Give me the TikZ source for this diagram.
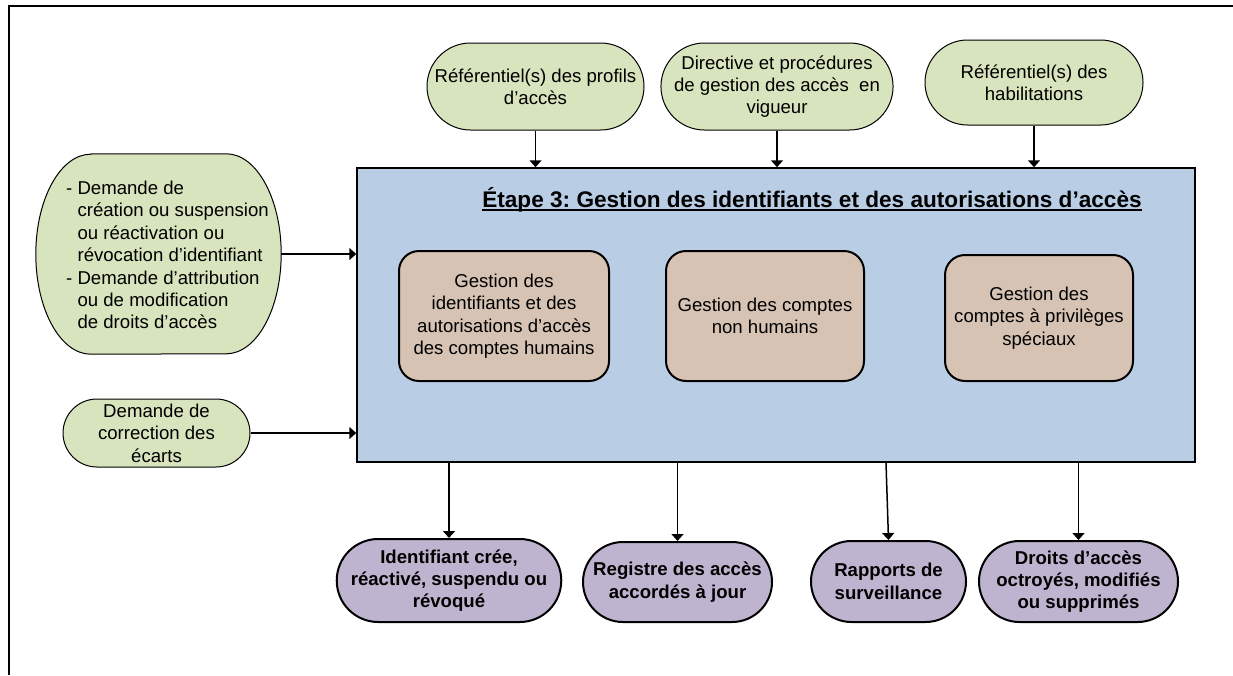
\documentclass[tikz,border=0pt]{standalone}
\usepackage{fontspec}
\setmainfont{Liberation Sans}
\usetikzlibrary{arrows.meta,shapes.misc}
\definecolor{ingreen}{HTML}{D7E4BD}
\definecolor{mainblue}{HTML}{B9CDE5}
\definecolor{subbrown}{HTML}{D6C3B4}
\definecolor{outpurple}{HTML}{BFB4CF}
\frenchspacing
\tikzset{
  txt/.style={font=\fontsize{18.6}{22.4}\selectfont, align=center, inner sep=0pt},
  inbox/.style={txt, rounded rectangle, draw=black, line width=1pt, fill=ingreen},
  subbox/.style={txt, rectangle, rounded corners=20pt, draw=black, line width=2pt, fill=subbrown},
  outbox/.style={txt, font=\fontsize{18.6}{22.4}\selectfont\bfseries, rounded rectangle, draw=black, line width=2pt, fill=outpurple},
  arr/.style={line width=1.5pt, -{Triangle[width=12pt,length=7pt]}},
}
\begin{document}
\begin{tikzpicture}[x=1pt,y=-1pt]
\useasboundingbox (0,0) rectangle (1233,675);
% frame
\coordinate (fr1) at (9,675);
\coordinate (fr2) at (9,6);
\coordinate (fr3) at (1233,6);
\draw[line width=1.5pt] (fr1) -- (fr2) -- (fr3);

% main box
\node[draw=black, line width=1.5pt, fill=mainblue, minimum width=838pt, minimum height=294pt, inner sep=0pt] (main) at (776,315) {};
\node[font=\fontsize{22.6}{26}\selectfont\bfseries, anchor=base, inner sep=0pt] (title) at (812,207) {Étape 3: Gestion des identifiants et des autorisations d’accès};
\draw[line width=2.2pt] ([yshift=-3.2pt]title.base west) -- ([yshift=-3.2pt]title.base east);

% sub boxes
\node[subbox, minimum width=210pt, minimum height=130pt] (b1) at (504,316) {Gestion des\\identifiants et des\\autorisations d’accès\\des comptes humains};
\node[subbox, minimum width=198pt, minimum height=130pt] (b2) at (765,316) {Gestion des comptes\\non humains};
\node[subbox, minimum width=188pt, minimum height=126pt] (b3) at (1039,318) {Gestion des\\comptes à privilèges\\spéciaux};

% top inputs
\node[inbox, minimum width=217pt, minimum height=87pt] (t1) at (535.5,86.5) {Référentiel(s) des profils\\d’accès};
\node[inbox, minimum width=228pt, minimum height=87pt] (t2) at (777,86.5) {Directive et procédures\\de gestion des accès\ \ en\\vigueur};
\node[inbox, minimum width=218pt, minimum height=85pt] (t3) at (1034,82.5) {Référentiel(s) des\\habilitations};

% left inputs
\node[minimum width=245pt, minimum height=200pt, inner sep=0pt] (l1) at (158.5,254) {};
\path[draw=black, line width=1pt, fill=ingreen]
  ([xshift=55pt]l1.north west) -- ([xshift=-55pt]l1.north east)
  arc[start angle=90, end angle=-90, x radius=55pt, y radius=100pt]
  -- ([xshift=55pt]l1.south west)
  arc[start angle=270, end angle=90, x radius=55pt, y radius=100pt] -- cycle;
\node[txt, align=left, anchor=west] (l1t) at (66,255) {- Demande de\\\phantom{- }création ou suspension\\\phantom{- }ou réactivation ou\\\phantom{- }révocation d’identifiant\\- Demande d’attribution\\\phantom{- }ou de modification\\\phantom{- }de droits d’accès};
\node[inbox, minimum width=187pt, minimum height=68pt] (l2) at (156.5,433) {Demande de\\correction des\\écarts};

% outputs
\node[outbox, minimum width=212pt, minimum height=83pt] (o1) at (449,580.5) {Identifiant crée,\\réactivé, suspendu ou\\révoqué};
\node[outbox, minimum width=189pt, minimum height=80pt] (o2) at (677.5,582) {Registre des accès\\accordés à jour};
\node[outbox, minimum width=155pt, minimum height=81pt] (o3) at (888.5,581.5) {Rapports de\\surveillance};
\node[outbox, minimum width=199pt, minimum height=81pt] (o4) at (1078.5,581.5) {Droits d’accès\\octroyés, modifiés\\ou supprimés};

% arrows
\draw[arr] (t1.south) -- (t1.south |- main.north);
\draw[arr] (t2.south) -- (t2.south |- main.north);
\draw[arr] (t3.south) -- (t3.south |- main.north);
\draw[arr] (l1.east) -- (l1.east -| main.west);
\draw[arr] (l2.east) -- (l2.east -| main.west);
\draw[arr] (main.south -| o1.north) -- (o1.north);
\draw[arr] (main.south -| o2.north) -- (o2.north);
\draw[arr] ([xshift=-2.5pt]main.south -| o3.north) -- (o3.north);
\draw[arr] (main.south -| o4.north) -- (o4.north);
\end{tikzpicture}
\end{document}
